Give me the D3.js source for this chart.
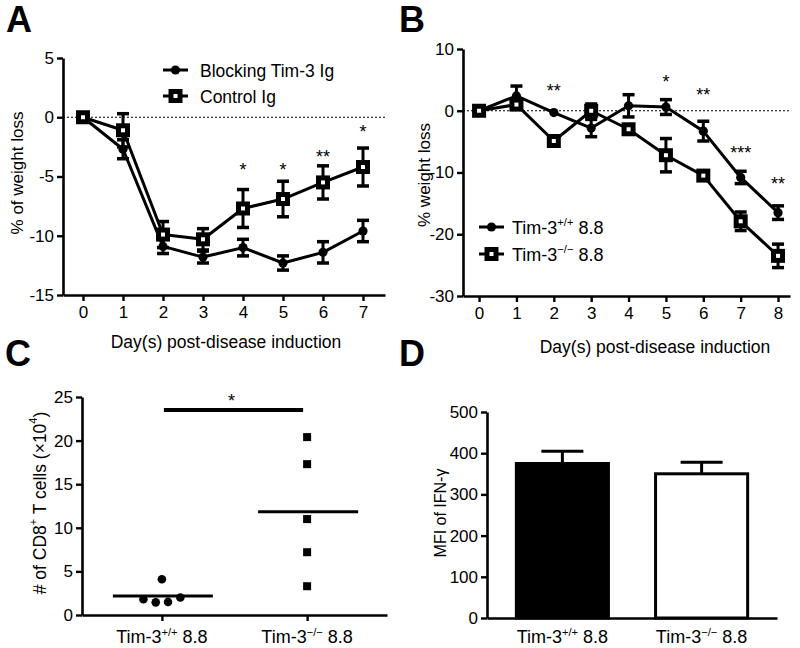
<!DOCTYPE html>
<html>
<head>
<meta charset="utf-8">
<script src="https://cdn.jsdelivr.net/npm/d3@7"></script>
<style>
  html, body { margin: 0; padding: 0; background: #fff; }
  svg { display: block; font-family: "Liberation Sans", Arial, sans-serif; }
</style>
</head>
<body>
<svg id="chart" width="800" height="648"></svg>
<script>
// ---------------- DATA ----------------
// Panel A
const daysA = [0, 1, 2, 3, 4, 5, 6, 7];
const blockingMean = [0, -2.7, -10.9, -11.8, -11.0, -12.3, -11.4, -9.6];
const blockingErr  = [0, 0.8, 0.6, 0.5, 0.7, 0.6, 0.9, 0.9];
const controlMean  = [0, -1.1, -9.9, -10.3, -7.7, -6.9, -5.5, -4.2];
const controlErr   = [0, 1.4, 1.1, 0.9, 1.6, 1.5, 1.4, 1.6];
const starDaysA   = [4, 5, 6, 7];
const starLabelsA = ["*", "*", "**", "*"];
const starValuesA = [-4.1, -4.1, -3.0, -0.9];
const yTicksA = [5, 0, -5, -10, -15];

// Panel B
const daysB = [0, 1, 2, 3, 4, 5, 6, 7, 8];
const wtMean = [0, 2.4, -0.3, -2.8, 0.8, 0.6, -3.3, -10.8, -16.5];
const wtErr  = [0, 1.6, 0, 1.4, 1.8, 1.2, 1.6, 1.0, 1.1];
const koMean = [0, 1.0, -4.9, 0.0, -3.0, -7.2, -10.5, -17.9, -23.5];
const koErr  = [0, 0.6, 0.5, 1.1, 0.5, 2.7, 0.5, 1.5, 1.9];
const starDaysB   = [2, 5, 6, 7, 8];
const starLabelsB = ["**", "*", "**", "***", "**"];
const starValuesB = [3.9, 5.3, 3.2, -6.2, -11.2];
const yTicksB = [10, 0, -10, -20, -30];

// Panel C
const groupsC = ["wt", "ko"];
const wtCells = [1.8, 1.45, 4.1, 1.5, 2.0];
const koCells = [20.4, 17.3, 11.0, 7.2, 3.3];
const sigValueC = 23.5;
const yTicksC = [0, 5, 10, 15, 20, 25];

// Panel D
const groupsD = ["wt", "ko"];
const mfiMean = [375, 350];
const mfiErr  = [30, 28];
const yTicksD = [0, 100, 200, 300, 400, 500];

// ---------------- HELPERS ----------------
const svg = d3.select("#chart");
const FS = 17;
const fmt = d => String(d); // plain hyphen for negatives

function styleAxis(g) {
  g.selectAll("path.domain").attr("stroke", "#000").attr("stroke-width", 2.6);
  g.selectAll(".tick line").attr("stroke", "#000").attr("stroke-width", 2.4);
  g.selectAll(".tick text").attr("fill", "#000").attr("font-size", FS)
    .attr("font-family", "'Liberation Sans', Arial, sans-serif");
}

function panelLetter(txt, x, y) {
  svg.append("text").attr("x", x).attr("y", y).text(txt)
    .attr("font-size", 36).attr("font-weight", "bold").attr("fill", "#000");
}

function genoLabel(g, x, y, sup, size) {
  const t = g.append("text").attr("x", x).attr("y", y)
    .attr("font-size", size).attr("fill", "#000");
  t.append("tspan").text("Tim-3");
  t.append("tspan").text(sup).attr("font-size", size * 0.62).attr("dy", -size * 0.4);
  t.append("tspan").text("\u00a08.8").attr("dy", size * 0.4);
  return t;
}

function drawMarker(g, type, cx, cy) {
  if (type === "circle") {
    g.append("circle").attr("cx", cx).attr("cy", cy).attr("r", 4.6).attr("fill", "#000");
  } else {
    const s = 9;
    g.append("rect").attr("x", cx - s / 2).attr("y", cy - s / 2).attr("width", s).attr("height", s)
      .attr("fill", "#fff").attr("stroke", "#000").attr("stroke-width", 5);
  }
}

function linePanel(cfg) {
  const g = svg.append("g");
  const x = d3.scaleLinear().domain(cfg.xDomain).range(cfg.xRange);
  const y = d3.scaleLinear().domain(cfg.yDomain).range(cfg.yRange);

  // zero dotted line
  g.append("line").attr("x1", cfg.xRange[0]).attr("x2", cfg.xRange[1])
    .attr("y1", y(0)).attr("y2", y(0))
    .attr("stroke", "#000").attr("stroke-width", 1.2).attr("stroke-dasharray", "2,2");

  const line = d3.line().x(d => x(d[0])).y(d => y(d[1]));
  cfg.series.forEach(s => {
    const pts = cfg.days.map((d, i) => [d, s.mean[i]]);
    g.append("path").datum(pts).attr("d", line).attr("fill", "none")
      .attr("stroke", "#000").attr("stroke-width", 3).attr("stroke-linejoin", "round");
  });
  cfg.series.forEach(s => {
    cfg.days.forEach((d, i) => {
      const e = s.err[i];
      if (e > 0) {
        const cx = x(d), y1 = y(s.mean[i] + e), y2 = y(s.mean[i] - e);
        g.append("line").attr("x1", cx).attr("x2", cx).attr("y1", y1).attr("y2", y2)
          .attr("stroke", "#000").attr("stroke-width", 3);
        [y1, y2].forEach(yy => g.append("line").attr("x1", cx - 6).attr("x2", cx + 6)
          .attr("y1", yy).attr("y2", yy).attr("stroke", "#000").attr("stroke-width", 3.5));
      }
    });
  });
  cfg.series.forEach(s => {
    cfg.days.forEach((d, i) => drawMarker(g, s.marker, x(d), y(s.mean[i])));
  });

  // stars
  cfg.starDays.forEach((d, i) => {
    g.append("text").attr("x", x(d)).attr("y", y(cfg.starValues[i]) + 10)
      .attr("text-anchor", "middle").attr("font-size", 18).attr("fill", "#000")
      .text(cfg.starLabels[i]);
  });

  // axes
  const ay = g.append("g").attr("transform", `translate(${cfg.xRange[0]},0)`)
    .call(d3.axisLeft(y).tickValues(cfg.yTicks).tickSize(6).tickSizeOuter(0).tickPadding(3).tickFormat(fmt));
  styleAxis(ay);
  const ax = g.append("g").attr("transform", `translate(0,${cfg.yRange[0]})`)
    .call(d3.axisBottom(x).tickValues(cfg.days).tickSize(6).tickSizeOuter(0).tickPadding(5)
      .tickFormat(fmt));
  styleAxis(ax);

  // titles
  g.append("text").attr("x", cfg.xTitle[0]).attr("y", cfg.xTitle[1]).attr("text-anchor", "middle")
    .attr("font-size", 17.5).attr("fill", "#000").text("Day(s) post-disease induction");
  g.append("text").attr("transform", `translate(${cfg.yTitle[0]},${cfg.yTitle[1]}) rotate(-90)`)
    .attr("text-anchor", "middle").attr("dominant-baseline", "central")
    .attr("font-size", 17).attr("fill", "#000").text(cfg.yLabel);

  // legend
  cfg.series.forEach((s, i) => {
    const ly = cfg.legend.y + i * cfg.legend.dy;
    g.append("line").attr("x1", cfg.legend.x).attr("x2", cfg.legend.x + 25)
      .attr("y1", ly).attr("y2", ly).attr("stroke", "#000").attr("stroke-width", 3);
    drawMarker(g, s.marker, cfg.legend.x + 12.5, ly);
    if (s.sup) {
      genoLabel(g, cfg.legend.x + 33, ly + 6.5, s.sup, 18);
    } else {
      g.append("text").attr("x", cfg.legend.x + 37).attr("y", ly + 6.5)
        .attr("font-size", 17.5).attr("fill", "#000").text(s.name);
    }
  });
}

// ---------------- PANEL A ----------------
panelLetter("A", 6, 32);
linePanel({
  days: daysA, xDomain: [-0.5, 7.55], xRange: [63, 385],
  yDomain: [-15, 5], yRange: [295, 58], yTicks: yTicksA,
  series: [
    { name: "Blocking Tim-3 Ig", mean: blockingMean, err: blockingErr, marker: "circle" },
    { name: "Control Ig", mean: controlMean, err: controlErr, marker: "square" }
  ],
  starDays: starDaysA, starLabels: starLabelsA, starValues: starValuesA,
  xTitle: [226, 348], yTitle: [17, 173], yLabel: "% of weight loss",
  legend: { x: 163, y: 70, dy: 26 }
});

// ---------------- PANEL B ----------------
panelLetter("B", 399, 32);
linePanel({
  days: daysB, xDomain: [-0.43, 8.32], xRange: [463, 790],
  yDomain: [-30, 10], yRange: [296, 49], yTicks: yTicksB,
  series: [
    { name: "wt", sup: "+/+", mean: wtMean, err: wtErr, marker: "circle" },
    { name: "ko", sup: "\u2212/\u2212", mean: koMean, err: koErr, marker: "square" }
  ],
  starDays: starDaysB, starLabels: starLabelsB, starValues: starValuesB,
  xTitle: [655, 353], yTitle: [424, 175], yLabel: "% weight loss",
  legend: { x: 479, y: 227, dy: 27 }
});

// ---------------- PANEL C ----------------
panelLetter("C", 5, 366);
(function () {
  const g = svg.append("g");
  const x = d3.scalePoint().domain(groupsC).range([82, 387]).padding(0.55);
  const y = d3.scaleLinear().domain([0, 25]).range([615, 397]);
  const sets = [wtCells, koCells];
  const markers = ["circle", "square"];

  // dodge overlapping points horizontally
  function dodge(vals, diam, spacing) {
    const idx = vals.map((v, i) => i).sort((a, b) => vals[a] - vals[b]);
    const clusters = [];
    idx.forEach(i => {
      const last = clusters[clusters.length - 1];
      if (last && Math.abs(y(vals[i]) - y(vals[last[last.length - 1]])) < diam) last.push(i);
      else clusters.push([i]);
    });
    const off = new Array(vals.length).fill(0);
    clusters.forEach(c => {
      c.sort((a, b) => a - b);
      c.forEach((i, k) => { off[i] = (k - (c.length - 1) / 2) * spacing; });
    });
    return off;
  }

  sets.forEach((vals, gi) => {
    const cx0 = x(groupsC[gi]);
    const off = dodge(vals, 9, 12.3);
    vals.forEach((v, i) => {
      if (markers[gi] === "circle") {
        g.append("circle").attr("cx", cx0 + off[i]).attr("cy", y(v)).attr("r", 4.3).attr("fill", "#000");
      } else {
        g.append("rect").attr("x", cx0 + off[i] - 4).attr("y", y(v) - 4)
          .attr("width", 8).attr("height", 8).attr("fill", "#000");
      }
    });
    const m = d3.mean(vals);
    g.append("line").attr("x1", cx0 - 49).attr("x2", cx0 + 51).attr("y1", y(m)).attr("y2", y(m))
      .attr("stroke", "#000").attr("stroke-width", 3);
  });

  // significance bar
  g.append("line").attr("x1", x(groupsC[0]) + 2).attr("x2", x(groupsC[1]) - 4)
    .attr("y1", y(sigValueC)).attr("y2", y(sigValueC)).attr("stroke", "#000").attr("stroke-width", 4);
  g.append("text").attr("x", (x(groupsC[0]) + x(groupsC[1])) / 2 - 3).attr("y", y(sigValueC) - 3)
    .attr("text-anchor", "middle").attr("font-size", 18).attr("fill", "#000").text("*");

  const ay = g.append("g").attr("transform", "translate(82,0)")
    .call(d3.axisLeft(y).tickValues(yTicksC).tickSize(6).tickSizeOuter(0).tickPadding(3).tickFormat(fmt));
  styleAxis(ay);
  const ax = g.append("g").attr("transform", "translate(0,615)")
    .call(d3.axisBottom(x).tickSize(6).tickSizeOuter(0).tickFormat(""));
  styleAxis(ax);
  const sups = ["+/+", "\u2212/\u2212"];
  groupsC.forEach((c, i) => {
    genoLabel(g, x(c), 643, sups[i], 18).attr("text-anchor", "middle");
  });

  const t = g.append("text").attr("transform", "translate(40,503) rotate(-90)")
    .attr("text-anchor", "middle").attr("dominant-baseline", "central")
    .attr("font-size", 17.5).attr("fill", "#000");
  t.append("tspan").text("# of CD8");
  t.append("tspan").text("+").attr("font-size", 11).attr("dy", -7);
  t.append("tspan").text(" T cells (\u00d710").attr("dy", 7);
  t.append("tspan").text("4").attr("font-size", 11).attr("dy", -7);
  t.append("tspan").text(")").attr("dy", 7);
})();

// ---------------- PANEL D ----------------
panelLetter("D", 399, 366);
(function () {
  const g = svg.append("g");
  const x = d3.scaleBand().domain(groupsD).range([487, 777]).paddingInner(0.317).paddingOuter(0.2);
  const y = d3.scaleLinear().domain([0, 500]).range([618, 412]);
  const fills = ["#000", "#fff"];

  groupsD.forEach((c, i) => {
    const cx = x(c) + x.bandwidth() / 2;
    const top = y(mfiMean[i]), et = y(mfiMean[i] + mfiErr[i]);
    g.append("line").attr("x1", cx).attr("x2", cx).attr("y1", top).attr("y2", et)
      .attr("stroke", "#000").attr("stroke-width", 3);
    g.append("line").attr("x1", cx - 21).attr("x2", cx + 21).attr("y1", et).attr("y2", et)
      .attr("stroke", "#000").attr("stroke-width", 3);
    g.append("rect").attr("x", x(c) + 1.5).attr("y", top)
      .attr("width", x.bandwidth() - 3).attr("height", y(0) - top)
      .attr("fill", fills[i]).attr("stroke", "#000").attr("stroke-width", 3);
  });

  const ay = g.append("g").attr("transform", "translate(487,0)")
    .call(d3.axisLeft(y).tickValues(yTicksD).tickSize(6).tickSizeOuter(0).tickPadding(3).tickFormat(fmt));
  styleAxis(ay);
  const ax = g.append("g").attr("transform", "translate(0,618)")
    .call(d3.axisBottom(x).tickSize(0).tickSizeOuter(0).tickFormat(""));
  styleAxis(ax);
  const sups = ["+/+", "\u2212/\u2212"];
  groupsD.forEach((c, i) => {
    genoLabel(g, x(c) + x.bandwidth() / 2, 643, sups[i], 18).attr("text-anchor", "middle");
  });

  g.append("text").attr("transform", "translate(440,513) rotate(-90)")
    .attr("text-anchor", "middle").attr("dominant-baseline", "central")
    .attr("font-size", 16).attr("fill", "#000").text("MFI of IFN-\u03b3");
})();
</script>
</body>
</html>
